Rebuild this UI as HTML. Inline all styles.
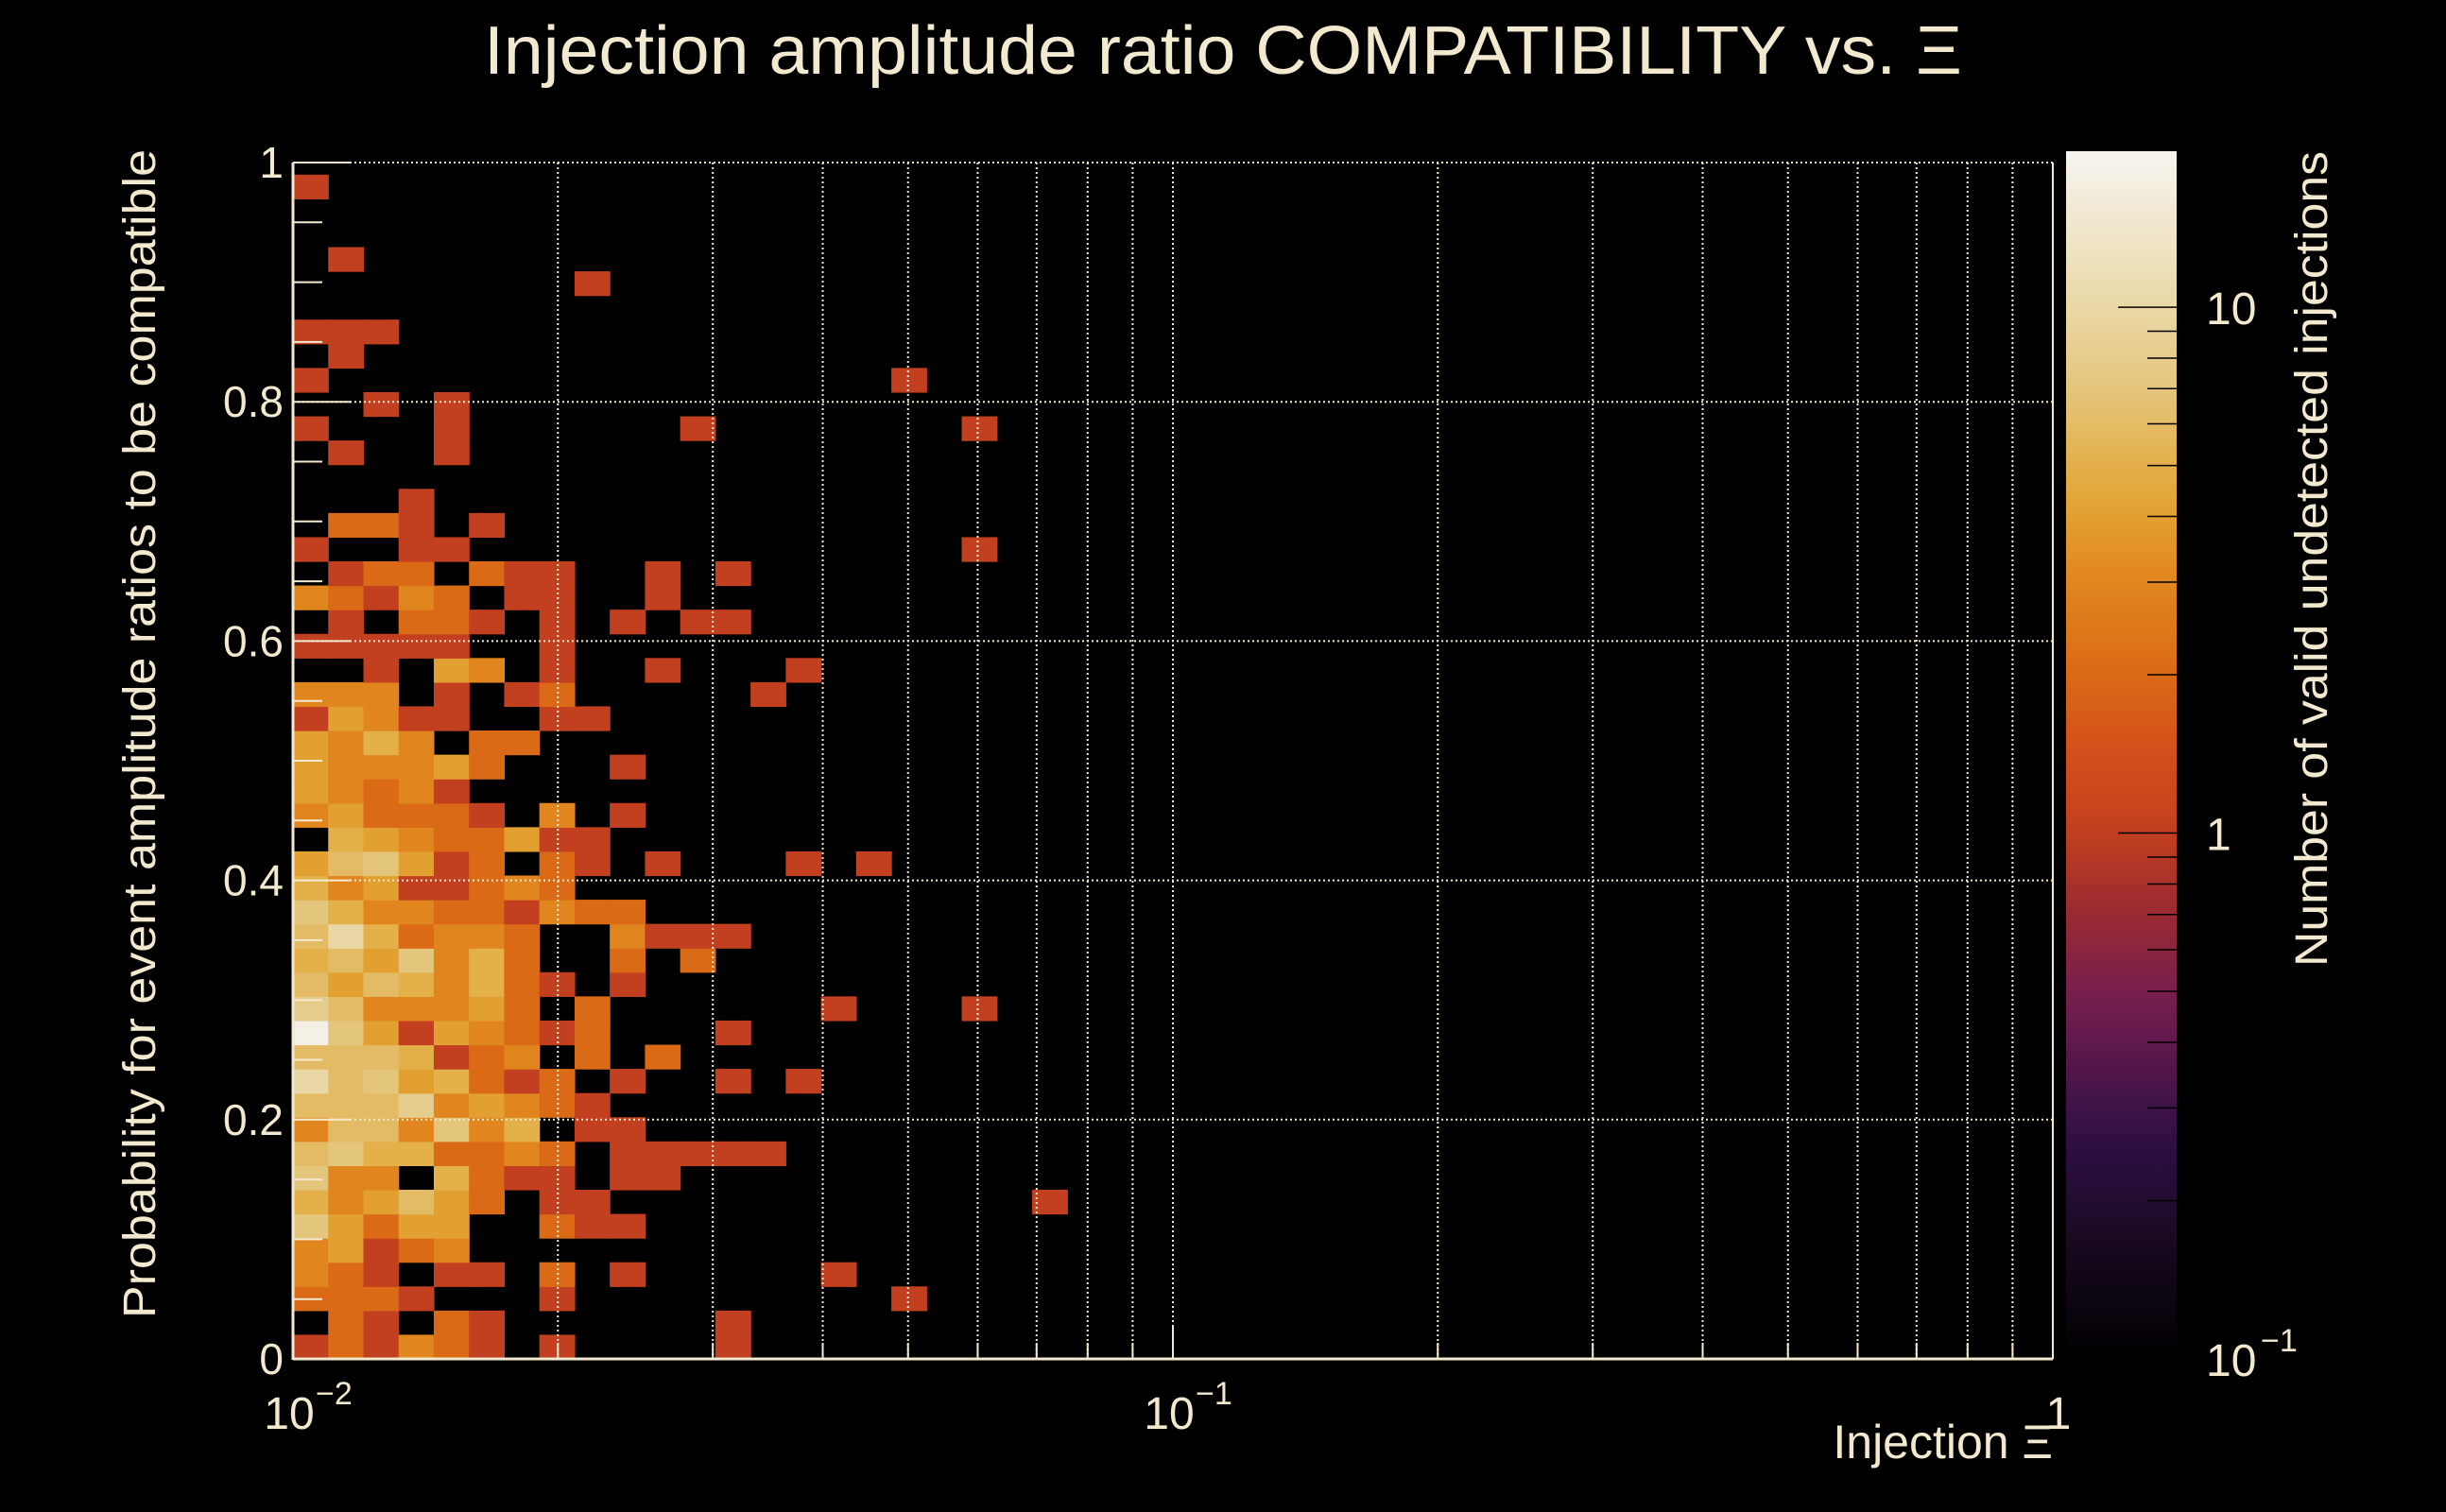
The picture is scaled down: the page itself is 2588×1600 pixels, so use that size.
<!DOCTYPE html>
<html><head><meta charset="utf-8"><title>Injection amplitude ratio COMPATIBILITY</title>
<style>html,body{margin:0;padding:0;background:#000;}svg{display:block;}</style></head>
<body>
<svg id="chart" width="2588" height="1600" viewBox="0 0 2588 1600" xmlns="http://www.w3.org/2000/svg" font-family="Liberation Sans, DejaVu Sans, sans-serif">
<rect x="0" y="0" width="2588" height="1600" fill="#000"/>
<text x="1294" y="78" text-anchor="middle" font-size="72" fill="#f3e9cf" textLength="1564" lengthAdjust="spacingAndGlyphs">Injection amplitude ratio COMPATIBILITY vs.  Ξ</text>
<g id="cells"></g>
<g id="grid"></g>
<g id="axes"></g>
<g id="cbar"></g>
<text transform="translate(164,1395) rotate(-90)" font-size="48" fill="#f3e9cf" textLength="1237" lengthAdjust="spacingAndGlyphs">Probability for event amplitude ratios to be compatible</text>
<text x="2172" y="1543" text-anchor="end" font-size="50" fill="#f3e9cf">Injection Ξ</text>
<text transform="translate(2462,1023) rotate(-90)" font-size="48" fill="#f3e9cf" textLength="863" lengthAdjust="spacingAndGlyphs">Number of valid undetected injections</text>
</svg>
<script>
// ---- data ----
const xBinCount = 50;          // log-spaced bins from 1e-2 to 1
const yBinWidth = 1 / 49.5;    // bin height in probability units
const yTicks = [0, 0.2, 0.4, 0.6, 0.8, 1];
const yTickLabels = ["0", "0.2", "0.4", "0.6", "0.8", "1"];
const xDecades = [-2, -1, 0];
const xDecadeLabels = ["10", "10", "1"];
const xDecadeSups = ["\u22122", "\u22121", ""];
const zTicks = [0.1, 1, 10];
const zTickLabels = ["10", "1", "10"];
const zTickSups = ["\u22121", "", ""];
// counts[row][col], row 0 = bottom
const counts = [
[1,2,1,3,2,1,0,1,0,0,0,0,1],
[0,2,1,0,2,1,0,0,0,0,0,0,1],
[2,2,2,1,0,0,0,1,0,0,0,0,0,0,0,0,0,1],
[3,2,1,0,1,1,0,2,0,1,0,0,0,0,0,1],
[3,4,1,2,3],
[7,4,2,4,4,0,0,2,1,1],
[5,3,4,6,4,2,0,1,1,0,0,0,0,0,0,0,0,0,0,0,0,1],
[7,3,3,0,5,2,1,1,0,1,1],
[6,7,5,5,2,2,3,2,0,1,1,1,1,1],
[3,6,6,3,7,3,5,0,1,1],
[6,6,6,8,3,4,3,2,1],
[10,6,7,4,5,2,1,2,0,1,0,0,1,0,1],
[6,6,6,5,1,2,3,0,2,0,2],
[18,7,4,1,4,3,2,1,2,0,0,0,1],
[8,6,3,3,3,4,2,0,2,0,0,0,0,0,0,1,0,0,0,1],
[6,4,6,5,3,5,2,1,0,1],
[5,6,4,7,3,5,2,0,0,2,0,2],
[6,10,5,2,3,3,2,0,0,3,1,1,1],
[7,5,3,3,2,2,1,3,2,2],
[5,3,4,1,1,2,3,2],
[4,6,7,4,1,2,0,2,1,0,1,0,0,0,1,0,1],
[0,5,4,3,2,2,4,1,1],
[3,4,2,2,2,1,0,3,0,1],
[4,3,2,3,1],
[4,3,3,3,4,2,0,0,0,1],
[4,3,5,3,0,2,2],
[1,4,3,1,1,0,0,1,1],
[3,3,3,0,1,0,1,2,0,0,0,0,0,1],
[0,0,1,0,4,3,0,1,0,0,1,0,0,0,1],
[1,1,1,1,1,0,0,1],
[0,1,0,2,2,1,0,1,0,1,0,1,1],
[3,2,1,3,2,0,1,1,0,0,1],
[0,1,2,2,0,2,1,1,0,0,1,0,1],
[1,0,0,1,1,0,0,0,0,0,0,0,0,0,0,0,0,0,0,1],
[0,2,2,1,0,1],
[0,0,0,1],
[],
[0,1,0,0,1],
[1,0,0,0,1,0,0,0,0,0,0,1,0,0,0,0,0,0,0,1],
[0,0,1,0,1],
[1,0,0,0,0,0,0,0,0,0,0,0,0,0,0,0,0,1],
[0,1],
[1,1,1],
[],
[0,0,0,0,0,0,0,0,1],
[0,1],
[],
[],
[1]
];

// ---- geometry ----
const X0 = 310, X1 = 2172, Y0 = 1438, Y1 = 172;
const CB_X0 = 2186, CB_X1 = 2303, CB_TOP = 160, CB_BOT = 1438;
const Z_MIN = 0.1, Z_MAX = 19.8;
const NS = "http://www.w3.org/2000/svg";
const TXT = "#f3e9cf";
function xScale(v){ return X0 + (Math.log10(v) + 2) / 2 * (X1 - X0); }
function yScale(v){ return Y0 - v * (Y0 - Y1); }
function zFrac(v){ return (Math.log10(v) - Math.log10(Z_MIN)) / (Math.log10(Z_MAX) - Math.log10(Z_MIN)); }
function zScale(v){ return CB_BOT - zFrac(v) * (CB_BOT - CB_TOP); }
const stops = [
 [0,[0,0,0]],[0.1,[26,10,34]],[0.18,[46,15,69]],[0.3,[118,30,78]],[0.38,[160,44,46]],
 [0.435,[194,63,31]],[0.51,[212,82,26]],[0.566,[218,106,22]],[0.643,[225,134,30]],
 [0.697,[226,160,48]],[0.74,[227,176,74]],[0.80,[228,196,122]],[0.87,[233,216,165]],[1,[246,244,240]]];
function cmap(t){
  t = Math.max(0, Math.min(1, t));
  for (let i = 1; i < stops.length; i++){
    if (t <= stops[i][0]){
      const a = stops[i-1], b = stops[i], f = (t - a[0]) / (b[0] - a[0]);
      const c = a[1].map((v, k) => Math.round(v + (b[1][k] - v) * f));
      return "rgb(" + c.join(",") + ")";
    }
  }
  return "rgb(246,244,240)";
}
function mk(tag, attrs, parent){
  const e = document.createElementNS(NS, tag);
  for (const k in attrs) e.setAttribute(k, attrs[k]);
  parent.appendChild(e);
  return e;
}

// ---- cells ----
const gCells = document.getElementById("cells");
for (let r = 0; r < counts.length; r++){
  for (let c = 0; c < counts[r].length; c++){
    const v = counts[r][c];
    if (!v) continue;
    const xa = xScale(Math.pow(10, -2 + 2 * c / xBinCount));
    const xb = xScale(Math.pow(10, -2 + 2 * (c + 1) / xBinCount));
    const ya = yScale(r * yBinWidth), yb = yScale((r + 1) * yBinWidth);
    const el = mk("rect", {x: xa.toFixed(2), y: yb.toFixed(2), width: (xb - xa + 0.6).toFixed(2), height: (ya - yb + 0.6).toFixed(2), fill: cmap(zFrac(v))}, gCells);
    
    
  }
}

// ---- grid ----
const gGrid = document.getElementById("grid");
const gridVals = [];
for (const d of [-2, -1]) for (let m = 1; m <= 9; m++) if (!(d === -2 && m === 1)) gridVals.push(m * Math.pow(10, d));
for (const gv of gridVals){
  const x = xScale(gv);
  const l = mk("line", {x1: x, x2: x, y1: Y1, y2: Y0, stroke: "#f3e9cf", "stroke-width": 2, "stroke-dasharray": "2,3"}, gGrid);
  
  
}
for (const yv of yTicks.slice(1)){
  const y = yScale(yv);
  const l = mk("line", {x1: X0, x2: X1, y1: y, y2: y, stroke: "#f3e9cf", "stroke-width": 2, "stroke-dasharray": "2,3"}, gGrid);
  
  
}

// ---- axes ----
const gAx = document.getElementById("axes");
let ax = mk("line", {x1: X0, x2: X0, y1: Y1, y2: Y0 + 1, stroke: TXT, "stroke-width": 3}, gAx);


ax = mk("line", {x1: X0, x2: X1, y1: Y0, y2: Y0, stroke: TXT, "stroke-width": 3}, gAx);


ax = mk("line", {x1: X1, x2: X1, y1: Y1, y2: Y0, stroke: TXT, "stroke-width": 2}, gAx);


// y ticks
for (let i = 0; i <= 20; i++){
  const v = i * 0.05, y = yScale(v), major = (i % 4 === 0);
  const t = mk("line", {x1: X0, x2: X0 + (major ? 62 : 31), y1: y, y2: y, stroke: TXT, "stroke-width": 2}, gAx);
  
  
}
for (let i = 0; i < yTicks.length; i++){
  const t = mk("text", {x: 300, y: yScale(yTicks[i]) + 16, "text-anchor": "end", "font-size": 46, fill: TXT}, gAx);
  t.textContent = yTickLabels[i];
  
  
}
// x ticks
for (const d of [-2, -1]) for (let m = 1; m <= 9; m++){
  const x = xScale(m * Math.pow(10, d));
  const t = mk("line", {x1: x, x2: x, y1: Y0, y2: Y0 - (m === 1 ? 34 : 17), stroke: TXT, "stroke-width": 2}, gAx);
  
  
}
for (let i = 0; i < xDecades.length; i++){
  const x = xScale(Math.pow(10, xDecades[i]));
  const t = mk("text", {x: x + (xDecadeSups[i] ? -4 : 6), y: 1512, "text-anchor": "middle", "font-size": 48, fill: TXT}, gAx);
  t.textContent = xDecadeLabels[i];
  
  
  if (xDecadeSups[i]){
    const s = mk("text", {x: x + 24, y: 1486, "font-size": 34, fill: TXT}, gAx);
    s.textContent = xDecadeSups[i];
    
    
  }
}

// ---- colour bar ----
const gCb = document.getElementById("cbar");
const defs = mk("defs", {}, gCb);
const grad = mk("linearGradient", {id: "zgrad", x1: 0, y1: 1, x2: 0, y2: 0}, defs);
for (let i = 0; i <= 40; i++){
  const t = i / 40;
  mk("stop", {offset: t, "stop-color": cmap(t)}, grad);
}
const cbRect = mk("rect", {x: CB_X0, y: CB_TOP, width: CB_X1 - CB_X0, height: CB_BOT - CB_TOP, fill: "url(#zgrad)"}, gCb);


for (const d of [-1, 0, 1]) for (let m = 1; m <= 9; m++){
  const v = m * Math.pow(10, d);
  if (v <= Z_MIN || v > Z_MAX) continue;
  const y = zScale(v);
  const t = mk("line", {x1: CB_X1 - (m === 1 ? 62 : 31), x2: CB_X1, y1: y, y2: y, stroke: "#000", "stroke-width": 1.5}, gCb);
  
  
}
for (let i = 0; i < zTicks.length; i++){
  const y = zScale(zTicks[i]);
  const t = mk("text", {x: 2334, y: y + 18, "font-size": 48, fill: TXT}, gCb);
  t.textContent = zTickLabels[i];
  
  
  if (zTickSups[i]){
    const s = mk("text", {x: 2392, y: y - 8, "font-size": 34, fill: TXT}, gCb);
    s.textContent = zTickSups[i];
    
    
  }
}
</script>
</body></html>
